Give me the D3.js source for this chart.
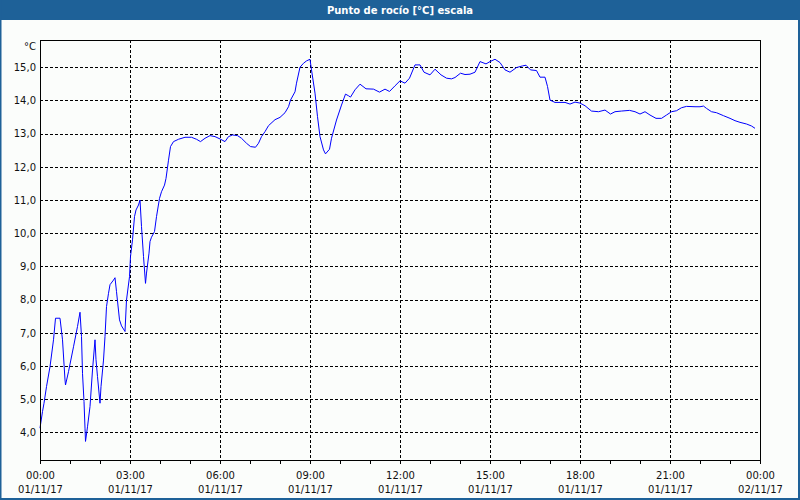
<!DOCTYPE html>
<html><head><meta charset="utf-8">
<script src="https://cdn.jsdelivr.net/npm/d3@7"></script>
<style>
body{margin:0;background:#fbfdfb}
svg{display:block}
text{font-family:"DejaVu Sans",Verdana,sans-serif}
</style>
</head><body><svg id="c" width="800" height="500"></svg>
<script>
const chartTitle = "Punto de rocío [°C] escala";
const unitLabel = "°C";
// minutes since 01/11/17 00:00
const minutes = [0,5,8,13,20,27,31,40,45,50,51,57,67,75,80,83,85,88,90,91,95,100,105,110,112,115,120,122,127,130,133,137,140,147,150,153,159,163,170,173,179,181,185,189,192,197,200,203,207,211,213,218,220,223,229,233,239,243,249,252,257,261,267,277,290,303,313,321,330,340,350,360,370,377,385,395,403,413,421,431,437,443,450,457,470,480,490,497,501,510,513,520,527,533,540,543,550,555,560,567,571,579,583,593,603,611,617,621,630,640,652,667,679,690,699,710,720,730,739,750,760,768,780,790,802,813,823,830,841,850,860,870,880,892,900,910,920,930,940,953,965,972,981,993,1000,1010,1015,1020,1030,1050,1060,1070,1080,1090,1103,1117,1130,1141,1150,1163,1179,1190,1200,1210,1220,1232,1243,1253,1263,1273,1283,1293,1310,1320,1327,1333,1343,1353,1367,1380,1390,1400,1413,1423,1430];
const dewPoint = [4.13,4.63,4.88,5.38,5.98,6.79,7.44,7.44,6.79,5.58,5.43,5.83,6.58,7.19,7.62,6.89,5.78,4.93,4.13,3.73,4.17,4.78,5.88,6.79,6.19,5.68,4.88,5.38,6.18,6.89,7.79,8.19,8.45,8.59,8.66,8.24,7.39,7.21,7.04,7.99,8.69,9.3,9.8,10.5,10.7,10.85,11.0,10.2,9.3,8.49,8.8,9.4,9.75,9.88,10.05,10.5,11.05,11.25,11.45,11.65,12.2,12.61,12.76,12.83,12.89,12.89,12.83,12.76,12.86,12.94,12.91,12.84,12.76,12.91,12.96,12.94,12.86,12.71,12.61,12.59,12.71,12.91,13.06,13.24,13.42,13.49,13.63,13.81,14.01,14.26,14.52,15.0,15.12,15.19,15.24,14.92,14.22,13.51,12.91,12.51,12.39,12.53,12.86,13.41,13.86,14.19,14.14,14.10,14.32,14.49,14.35,14.34,14.25,14.34,14.27,14.44,14.59,14.52,14.67,15.07,15.07,14.85,14.77,14.94,14.77,14.67,14.65,14.69,14.82,14.78,14.79,14.85,15.17,15.10,15.17,15.24,15.14,14.92,14.85,14.99,15.04,15.06,14.92,14.90,14.70,14.70,14.42,14.01,13.94,13.94,13.89,13.95,13.92,13.84,13.68,13.66,13.71,13.59,13.66,13.68,13.70,13.66,13.59,13.66,13.56,13.46,13.46,13.56,13.66,13.69,13.78,13.82,13.81,13.81,13.83,13.76,13.66,13.63,13.54,13.46,13.39,13.34,13.29,13.23,13.16];
const yTicks = [4,5,6,7,8,9,10,11,12,13,14,15];
const xHourTicks = [0,60,120,180,240,300,360,420,480,540,600,660,720,780,840,900,960,1020,1080,1140,1200,1260,1320,1380,1440];
const xLabelTicks = [0,180,360,540,720,900,1080,1260,1440];
const xLabelTimes = ["00:00","03:00","06:00","09:00","12:00","15:00","18:00","21:00","00:00"];
const xLabelDates = ["01/11/17","01/11/17","01/11/17","01/11/17","01/11/17","01/11/17","01/11/17","01/11/17","02/11/17"];

const W = 800, H = 500;
const frameBlue = "#1e6198";
const plot = {left:40, right:760, top:40, bottom:460};

const svg = d3.select("#c");
svg.append("rect").attr("width",W).attr("height",H).attr("fill","#fbfdfb");

// window frame + title bar
svg.append("rect").attr("x",0).attr("y",0).attr("width",W).attr("height",20).attr("fill",frameBlue);
svg.append("rect").attr("x",0).attr("y",0).attr("width",1.5).attr("height",H).attr("fill",frameBlue);
svg.append("rect").attr("x",W-2).attr("y",0).attr("width",2).attr("height",H).attr("fill",frameBlue);
svg.append("rect").attr("x",0).attr("y",H-2).attr("width",W).attr("height",2).attr("fill",frameBlue);
svg.append("text").attr("x",W/2).attr("y",14).attr("text-anchor","middle")
  .attr("fill","#ffffff").attr("font-weight","bold").attr("font-size",10).text(chartTitle);

const x = d3.scaleLinear().domain([0,1440]).range([plot.left, plot.right]);
const y = d3.scaleLinear().domain([3.17,15.82]).range([plot.bottom, plot.top]);
const px = v => Math.round(v) + 0.5;

// grid
const grid = svg.append("g").attr("stroke","#000").attr("stroke-width",1)
  .attr("stroke-dasharray","3,2").attr("shape-rendering","crispEdges");
grid.selectAll("line.h").data(yTicks).join("line").attr("class","h")
  .attr("x1",plot.left).attr("x2",plot.right)
  .attr("y1",d=>px(y(d))).attr("y2",d=>px(y(d)));
grid.selectAll("line.v").data(xLabelTicks.slice(1,-1)).join("line").attr("class","v")
  .attr("x1",d=>px(x(d))).attr("x2",d=>px(x(d)))
  .attr("y1",plot.top).attr("y2",plot.bottom);

// data line
const line = d3.line().x((d,i)=>x(minutes[i])).y(d=>y(d));
svg.append("path").datum(dewPoint).attr("d",line)
  .attr("fill","none").attr("stroke","#0000ff").attr("stroke-width",1);

// frame of plot
svg.append("rect").attr("x",plot.left+0.5).attr("y",plot.top+0.5)
  .attr("width",plot.right-plot.left).attr("height",plot.bottom-plot.top)
  .attr("fill","none").attr("stroke","#000").attr("stroke-width",1).attr("shape-rendering","crispEdges");

// y axis
const yAxis = svg.append("g").attr("transform",`translate(${plot.left},0)`)
  .call(d3.axisLeft(y).tickValues(yTicks).tickSize(0).tickPadding(4)
    .tickFormat(d=>d.toFixed(1).replace(".",",")));
yAxis.select(".domain").remove();
yAxis.selectAll("text").attr("font-size",10).attr("fill","#111")
  .attr("font-family","DejaVu Sans, sans-serif");
svg.append("text").attr("x",36).attr("y",50).attr("text-anchor","end")
  .attr("font-size",10).attr("fill","#111").text(unitLabel);

// x axis: hourly ticks
const xMinor = svg.append("g").attr("transform",`translate(0,${plot.bottom+0.5})`)
  .call(d3.axisBottom(x).tickValues(xHourTicks).tickSize(3).tickFormat(""));
xMinor.select(".domain").remove();
xMinor.selectAll("line").attr("shape-rendering","crispEdges")
  .attr("transform",function(){ return null; });
xMinor.selectAll(".tick").attr("transform",d=>`translate(${px(x(d))},0)`);

const xLab = svg.append("g").attr("transform",`translate(0,${plot.bottom})`)
  .call(d3.axisBottom(x).tickValues(xLabelTicks).tickSize(0)
    .tickFormat((d,i)=>xLabelTimes[i]));
xLab.select(".domain").remove();
xLab.selectAll(".tick text").each(function(d,i){
  const t = d3.select(this);
  t.text(null).attr("y",0).attr("dy",null).attr("font-size",10).attr("fill","#111")
    .attr("font-family","DejaVu Sans, sans-serif");
  t.append("tspan").attr("x",0).attr("y",19).text(xLabelTimes[i]);
  t.append("tspan").attr("x",0).attr("y",33).text(xLabelDates[i]);
});
</script>
</body></html>
